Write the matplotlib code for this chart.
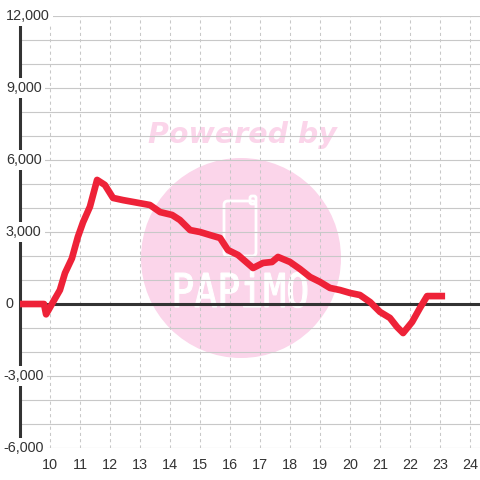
import matplotlib
matplotlib.use('Agg')
import matplotlib.pyplot as plt
from matplotlib.patches import Ellipse, FancyBboxPatch, PathPatch
from matplotlib.textpath import TextPath
from matplotlib.font_manager import FontProperties
from matplotlib.transforms import Affine2D, IdentityTransform, blended_transform_factory

# data (hour of day, value)
hours = [9.0, 9.8, 9.87, 10.1, 10.33, 10.5, 10.73, 10.93, 11.1, 11.33, 11.57,
         11.83, 12.1, 12.43, 13.0, 13.33, 13.67, 14.07, 14.33, 14.67, 15.0,
         15.33, 15.67, 15.93, 16.27, 16.77, 17.1, 17.4, 17.6, 18.0, 18.33,
         18.67, 19.0, 19.33, 19.67, 20.0, 20.33, 20.67, 21.0, 21.33, 21.57,
         21.77, 22.07, 22.33, 22.57, 23.17]
values = [0, 0, -430, 80, 580, 1290, 1900, 2800, 3400, 4050, 5170,
          4960, 4420, 4330, 4200, 4125, 3830, 3710, 3500, 3080, 3000,
          2875, 2750, 2250, 2040, 1500, 1710, 1750, 1960, 1750, 1460,
          1125, 920, 670, 580, 460, 375, 80, -330, -580, -960,
          -1210, -750, -170, 330, 330]

x_ticks = list(range(10, 25))
y_grid = list(range(-6000, 12001, 1000))
y_labels = list(range(-6000, 12001, 3000))

plt.rcParams['font.family'] = ['Liberation Sans', 'DejaVu Sans']

fig = plt.figure(figsize=(4.8, 4.8), dpi=100)
ax = fig.add_axes([20 / 480, 32 / 480, 460 / 480, 432 / 480])
ax.set_xlim(9, 9 + 460 / 30)
ax.set_ylim(-6000, 12000)
ax.set_axisbelow(True)

for s in ['top', 'right', 'bottom']:
    ax.spines[s].set_visible(False)
ax.spines['left'].set_color('#333333')
ax.spines['left'].set_linewidth(2.2)
ax.spines['left'].set_zorder(2)

ax.set_yticks(y_grid)
ax.set_yticklabels([])
ax.tick_params(axis='y', length=0)
ax.grid(axis='y', color='#c8c8c8', lw=0.8)

ax.set_xticks(x_ticks)
ax.set_xticklabels([str(t) for t in x_ticks], fontsize=10.4, color='#333333')
ax.tick_params(axis='x', length=0, pad=7)
ax.grid(axis='x', color='#c8c8c8', lw=0.75, linestyle=(0, (3, 3)))

# y labels sit inside the plot on a white box
trans = blended_transform_factory(fig.transFigure, ax.transData)
for v in y_labels:
    lab = f"{v:,}"
    x0 = 3 if lab.startswith('-') else 6
    ax.text(x0 / 480, v, lab, transform=trans, ha='left', va='center',
            fontsize=10.4, color='#333333', zorder=6, clip_on=False,
            bbox=dict(facecolor='white', edgecolor='none', pad=2.5))

# watermark
ax.add_patch(Ellipse((241 / 480, 1 - 258 / 480), 200 / 480, 200 / 480,
                     transform=fig.transFigure, facecolor='#fbd5ea',
                     edgecolor='none', zorder=0.2))
ax.text(242 / 480, 1 - 143 / 480, 'Powered by', transform=fig.transFigure,
        ha='center', va='baseline', fontsize=20.5, color='#fbd5ea',
        family='DejaVu Sans', weight='bold', style='italic', zorder=0.3)
ax.add_patch(FancyBboxPatch((224 / 480, 1 - 256 / 480), 32 / 480, 55 / 480,
                            boxstyle='round,pad=0,rounding_size=0.008',
                            transform=fig.transFigure, facecolor='none',
                            edgecolor='white', lw=2, zorder=0.3))
ax.add_patch(FancyBboxPatch((250 / 480, 1 - 204 / 480), 6 / 480, 8 / 480,
                            boxstyle='round,pad=0,rounding_size=0.004',
                            transform=fig.transFigure, facecolor='none',
                            edgecolor='white', lw=2, zorder=0.3))
tp = TextPath((0, 0), 'PAPiMO', size=1, prop=FontProperties(family='DejaVu Sans Mono'))
ext = tp.get_extents()
sx = 132 / ext.width
sy = 34 / 0.73
tr = Affine2D().translate(-ext.x0, 0).scale(sx, sy).translate(175, 480 - 307)
ax.add_patch(PathPatch(tr.transform_path(tp), transform=IdentityTransform(),
                       facecolor='white', edgecolor='white', lw=0.8, zorder=0.3))

ax.axhline(0, color='#333333', lw=2.2, zorder=3)
ax.plot(hours, values, color='#ee2238', lw=4.8, zorder=4,
        solid_joinstyle='round', solid_capstyle='butt')

fig.savefig('out.png', dpi=100)
